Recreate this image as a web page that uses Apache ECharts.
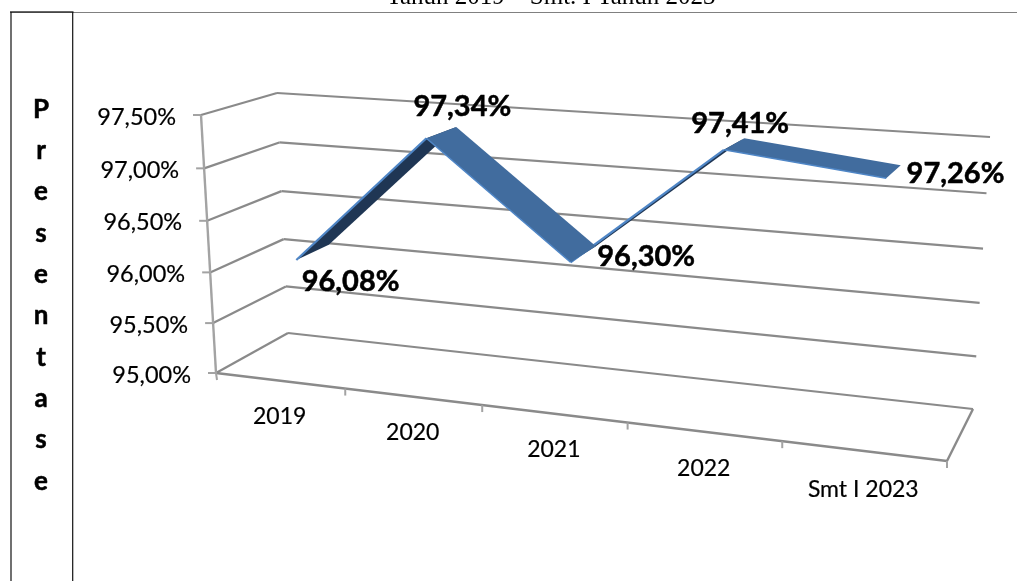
<!DOCTYPE html>
<html>
<head>
<meta charset="utf-8">
<style>
  html, body { margin: 0; padding: 0; background: #fff; overflow: hidden; }
  #chart { width: 1017px; height: 581px; }
</style>
<script src="https://cdn.jsdelivr.net/npm/echarts@6/dist/echarts.min.js"></script>
</head>
<body>
<div id="chart"></div>
<script>
// Chart values
const categories = ['2019', '2020', '2021', '2022', 'Smt I 2023'];
const persentase = [96.08, 97.34, 96.30, 97.41, 97.26];
const yTicks = [95, 95.5, 96, 96.5, 97, 97.5];
const yTickLabels = ['95,00%', '95,50%', '96,00%', '96,50%', '97,00%', '97,50%'];
const sideLetters = ['P', 'r', 'e', 's', 'e', 'n', 't', 'a', 's', 'e'];
const titleText = 'Tahun 2019 \u2013 Smt. I Tahun 2023';

// Perspective box the plot is drawn in: pixel corners of the front and back planes
const frontPlane = { p00: [216, 373], p10: [947, 461], p11: [966, 163], p01: [201, 115] };
const backPlane = { p00: [288, 333], p10: [973, 409], p11: [990, 137], p01: [277, 93] };
// Depth of the ribbon inside the box (0 front, 1 back)
const ribbonFront = 0.31;
const ribbonBack = 0.77;

// Label placement relative to the projected point
const valueLabelShift = [[38, 29], [21, -26], [63, 2], [6, -20], [62, 2]];
const categoryLabelShift = [[0, 36], [0, 36], [0, 36], [0, 37], [0, 39]];

const GRID_LINE = '#8a8a8a';
const AXIS_LINE = '#a3a3a3';
const TEXT_FONT = 'Lato, "Open Sans", sans-serif';

// Homography from the unit square onto a quadrilateral
function makeHomography(q) {
  const [x0, y0] = q.p00, [x1, y1] = q.p10, [x2, y2] = q.p11, [x3, y3] = q.p01;
  const dx1 = x1 - x2, dx2 = x3 - x2, sx = x0 - x1 + x2 - x3;
  const dy1 = y1 - y2, dy2 = y3 - y2, sy = y0 - y1 + y2 - y3;
  const det = dx1 * dy2 - dx2 * dy1;
  const g = (sx * dy2 - dx2 * sy) / det;
  const h = (dx1 * sy - sx * dy1) / det;
  const a = x1 - x0 + g * x1, b = x3 - x0 + h * x3;
  const d = y1 - y0 + g * y1, e = y3 - y0 + h * y3;
  return (u, v) => {
    const w = g * u + h * v + 1;
    return [(a * u + b * v + x0) / w, (d * u + e * v + y0) / w];
  };
}
const toFront = makeHomography(frontPlane);
const toBack = makeHomography(backPlane);

// Box position (u along categories, v along values, depth front to back) to screen
function project(u, v, depth) {
  const f = toFront(u, v), b = toBack(u, v);
  return [f[0] + (b[0] - f[0]) * depth, f[1] + (b[1] - f[1]) * depth];
}

// Normalised plot position of a data point, taken from the chart's own axes
function plotPos(params, api, i, value) {
  const cs = params.coordSys;
  const p = api.coord([i, value]);
  return [(p[0] - cs.x) / cs.width, 1 - (p[1] - cs.y) / cs.height];
}

function line(a, b, color, width) {
  return {
    type: 'line',
    silent: true,
    shape: { x1: a[0], y1: a[1], x2: b[0], y2: b[1] },
    style: { stroke: color, lineWidth: width }
  };
}

function renderWalls(params, api) {
  const value = api.value(1);
  const v = plotPos(params, api, 0, value)[1];
  const frontLeft = project(0, v, 0), backLeft = project(0, v, 1), backRight = project(1, v, 1);
  const children = [
    line(frontLeft, backLeft, GRID_LINE, 2.2),
    line(backLeft, backRight, GRID_LINE, 2.2),
    line([frontLeft[0] - 8, frontLeft[1]], frontLeft, AXIS_LINE, 2),
    {
      type: 'text',
      silent: true,
      style: {
        x: frontLeft[0] - 25, y: frontLeft[1] + 2,
        text: yTickLabels[params.dataIndex],
        fill: '#000', stroke: '#000', lineWidth: 0.2, font: '23.5px ' + TEXT_FONT,
        align: 'right', verticalAlign: 'middle'
      }
    }
  ];
  if (params.dataIndex === 0) {
    children.push(line(project(0, v, 0), project(1, v, 0), GRID_LINE, 2.4));
    children.push(line(project(1, v, 0), project(1, v, 1), GRID_LINE, 2.4));
  }
  if (params.dataIndex === yTicks.length - 1) {
    children.push(line(project(0, v, 0), project(0, 0, 0), AXIS_LINE, 2.4));
  }
  return { type: 'group', children };
}

function renderCategoryAxis(params, api) {
  const i = params.dataIndex;
  const n = categories.length;
  const children = [];
  const tick = project((i + 1) / n, 0, 0);
  children.push(line(tick, [tick[0], tick[1] + 7], AXIS_LINE, 2));
  if (i === 0) {
    const origin = project(0, 0, 0);
    children.push(line(origin, [origin[0] + 1, origin[1] + 7], AXIS_LINE, 2));
  }
  const u = plotPos(params, api, i, yTicks[0])[0];
  const base = project(u, 0, 0);
  children.push({
    type: 'text',
    silent: true,
    style: {
      x: base[0] + categoryLabelShift[i][0], y: base[1] + categoryLabelShift[i][1],
      text: categories[i],
      fill: '#000', stroke: '#000', lineWidth: 0.2, font: '23px ' + TEXT_FONT,
      align: 'center', verticalAlign: 'middle'
    }
  });
  return { type: 'group', children };
}

// One flat strip of the 3D line between two neighbouring points
function renderRibbon(params, api) {
  const i = params.dataIndex;
  if (i >= persentase.length - 1) return null;
  const a = plotPos(params, api, i, api.value(1));
  const b = plotPos(params, api, i + 1, persentase[i + 1]);
  const f0 = project(a[0], a[1], ribbonFront), f1 = project(b[0], b[1], ribbonFront);
  const b0 = project(a[0], a[1], ribbonBack), b1 = project(b[0], b[1], ribbonBack);
  const rising = persentase[i + 1] > persentase[i];
  return {
    type: 'group',
    children: [
      {
        type: 'polygon',
        silent: true,
        z2: rising ? 1 : 3,
        shape: { points: [f0, f1, b1, b0] },
        style: { fill: rising ? '#1f3654' : '#416c9e' }
      },
      {
        type: 'line',
        silent: true,
        z2: rising ? 2 : 4,
        shape: { x1: f0[0], y1: f0[1], x2: f1[0], y2: f1[1] },
        style: { stroke: '#4f86c6', lineWidth: rising ? 2.2 : 1.6 }
      }
    ]
  };
}

function renderValueLabels(params, api) {
  const i = params.dataIndex;
  const value = api.value(1);
  const p = plotPos(params, api, i, value);
  const mid = project(p[0], p[1], (ribbonFront + ribbonBack) / 2);
  return {
    type: 'text',
    silent: true,
    style: {
      x: mid[0] + valueLabelShift[i][0], y: mid[1] + valueLabelShift[i][1],
      text: value.toFixed(2).replace('.', ',') + '%',
      fill: '#000', stroke: '#000', lineWidth: 0.5, font: 'bold 29px ' + TEXT_FONT,
      align: 'center', verticalAlign: 'middle'
    }
  };
}

const chart = echarts.init(document.getElementById('chart'), null, { renderer: 'canvas' });
const points = persentase.map((v, i) => [i, v]);

chart.setOption({
  backgroundColor: '#ffffff',
  animation: false,
  tooltip: { show: false },
  grid: { left: 100, right: 30, top: 90, bottom: 90 },
  xAxis: { type: 'category', data: categories, show: false, boundaryGap: true },
  yAxis: { type: 'value', min: 95, max: 97.5, interval: 0.5, show: false },
  series: [
    { type: 'custom', name: 'walls', clip: false, z: 1, renderItem: renderWalls,
      data: yTicks.map(v => [0, v]) },
    { type: 'custom', name: 'categories', clip: false, z: 2, renderItem: renderCategoryAxis,
      data: points },
    { type: 'custom', name: 'Persentase', clip: false, z: 3, renderItem: renderRibbon,
      data: points },
    { type: 'custom', name: 'values', clip: false, z: 4, renderItem: renderValueLabels,
      data: points }
  ],
  graphic: [
    // Table borders around the side caption
    { type: 'line', silent: true, shape: { x1: 11, y1: 12.5, x2: 1017, y2: 12.5 },
      style: { stroke: '#808080', lineWidth: 1 } },
    { type: 'line', silent: true, shape: { x1: 10, y1: 12, x2: 73.5, y2: 12 },
      style: { stroke: '#333333', lineWidth: 1.5 } },
    { type: 'line', silent: true, shape: { x1: 11, y1: 12, x2: 11, y2: 581 },
      style: { stroke: '#111111', lineWidth: 1.2 } },
    { type: 'line', silent: true, shape: { x1: 72.7, y1: 12, x2: 72.7, y2: 581 },
      style: { stroke: '#111111', lineWidth: 1.2 } },
    // Title line, running off the top edge
    { type: 'text', silent: true, style: {
        x: 551, y: 10, text: titleText, fill: '#000',
        font: '25px "Liberation Serif", serif', align: 'center', verticalAlign: 'bottom' } }
  ].concat(sideLetters.map((ch, i) => ({
    type: 'text', silent: true, style: {
      x: 41, y: 109.5 + i * 41.3, text: ch, fill: '#000', stroke: '#000', lineWidth: 0.5,
      font: 'bold 26px ' + TEXT_FONT, align: 'center', verticalAlign: 'middle' }
  })))
});
</script>
</body>
</html>
